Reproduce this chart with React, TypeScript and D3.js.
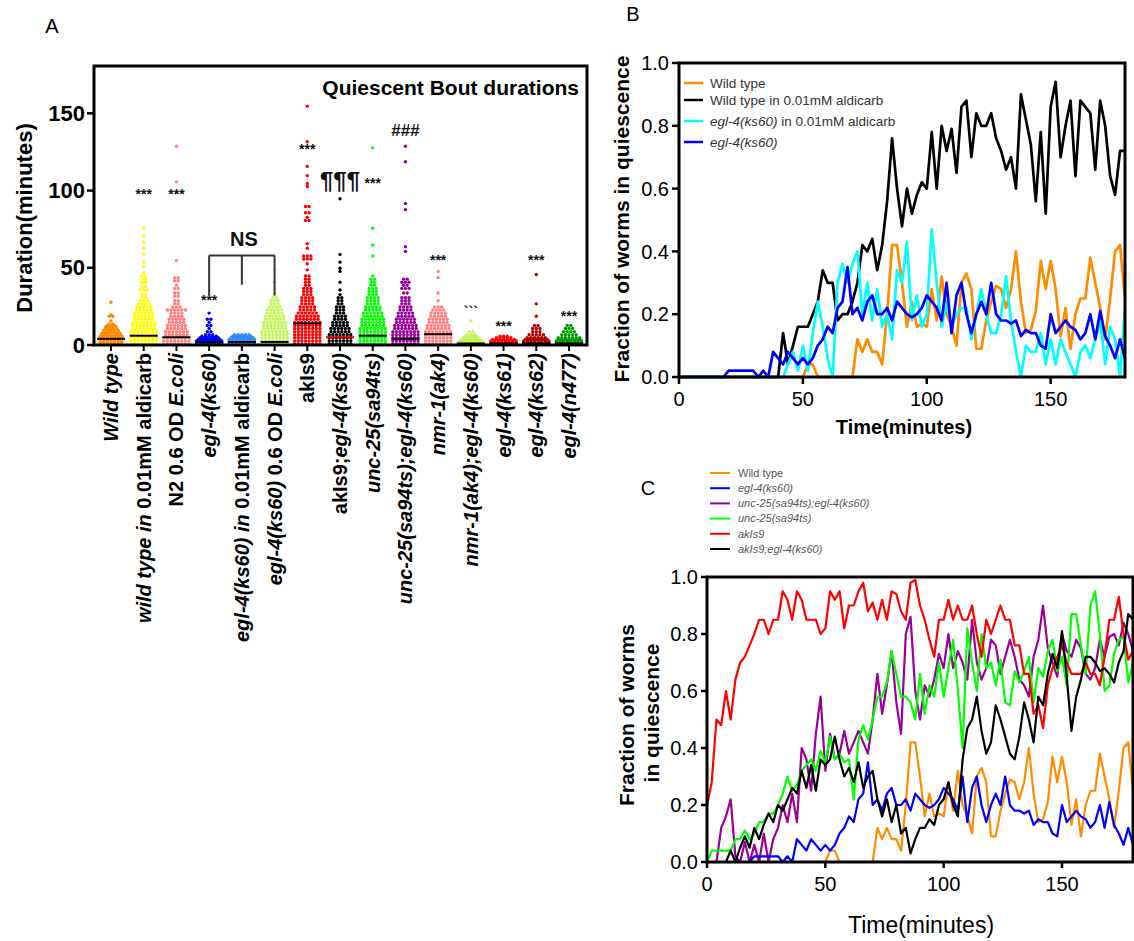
import React from 'react';
import * as d3 from 'd3';

// ---------------- Panel A data ----------------
const categories = [
  'Wild type', 'wild type in 0.01mM aldicarb', 'N2 0.6 OD E.coli', 'egl-4(ks60)',
  'egl-4(ks60) in 0.01mM aldicarb', 'egl-4(ks60) 0.6 OD E.coli', 'akIs9', 'akIs9;egl-4(ks60)',
  'unc-25(sa94ts)', 'unc-25(sa94ts);egl-4(ks60)', 'nmr-1(ak4)', 'nmr-1(ak4);egl-4(ks60)',
  'egl-4(ks61)', 'egl-4(ks62)', 'egl-4(n477)',
];
// label pieces: [text, italic]
const categoryLabelParts: [string, boolean][][] = [
  [['Wild type', true]],
  [['wild type in ', true], ['0.01mM aldicarb', false]],
  [['N2 0.6 OD ', false], ['E.coli', true]],
  [['egl-4(ks60)', true]],
  [['egl-4(ks60) in ', true], ['0.01mM aldicarb', false]],
  [['egl-4(ks60)', true], [' 0.6 OD ', false], ['E.coli', true]],
  [['akIs9', false]],
  [['akIs9;', false], ['egl-4(ks60)', true]],
  [['unc-25(sa94ts)', true]],
  [['unc-25(sa94ts);egl-4(ks60)', true]],
  [['nmr-1(ak4)', true]],
  [['nmr-1(ak4);egl-4(ks60)', true]],
  [['egl-4(ks61)', true]],
  [['egl-4(ks62)', true]],
  [['egl-4(n477)', true]],
];
const categoryColors = ['#FF8C00', '#FFFF00', '#FF7F7F', '#0000FF', '#2E8BFF', '#C4F55A', '#FF0000', '#000000',
  '#00FF00', '#990099', '#FF8080', '#C4F55A', '#FF0000', '#B00000', '#009A00'];
const categoryMedians = [4, 6, 5, 2, 2, 2, 14, 5, 6, 4, 7, 1, 1, 1, 1];
const medianColors = ['#000', '#000', '#000', '#000', '#000', '#000', '#000', '#E00000', '#000', '#000', '#000', '#000', '#000', '#000', '#000'];

// bout durations: [minutes, number of bouts]
const boutsWildType = [[0,7],[1,7],[2,7],[3,7],[4,7],[5,7],[6,6],[7,6],[8,5],[9,5],[10,4],[11,4],[12,3],[13,2],[15,1],[18,2],[19,1],[27,1]];
const boutsWtAldicarb = [[0,8],[2,8],[4,8],[6,8],[8,8],[10,7],[12,7],[14,7],[16,6],[18,6],[20,6],[22,5],[24,5],[26,4],[28,3],[30,2],[32,2],[35,3],[37,2],[40,2],[42,2],[44,2],[46,1],[50,1],[53,1],[58,1],[62,1],[66,1],[70,1],[75,1]];
const boutsN2Ecoli = [[0,8],[2,8],[4,8],[6,7],[8,7],[10,6],[12,6],[14,5],[16,5],[18,4],[20,4],[22,6],[24,3],[26,2],[28,2],[31,2],[33,2],[36,2],[38,1],[41,2],[43,2],[54,1],[98,1],[105,1],[128,1]];
const boutsEgl4 = [[0,8],[1,8],[2,8],[3,7],[4,6],[5,5],[6,3],[8,2],[10,1],[12,2],[14,1],[16,2],[20,1]];
const boutsEgl4Aldicarb = [[0,8],[1,8],[2,8],[3,8],[4,7],[5,6],[6,5]];
const boutsEgl4Ecoli = [[0,8],[2,8],[4,8],[6,8],[8,8],[10,7],[12,7],[14,7],[16,6],[18,6],[20,5],[22,5],[24,4],[26,3],[28,3],[30,2],[33,1],[40,1],[48,1]];
const boutsAkIs9 = [[0,8],[2,8],[4,8],[6,8],[8,8],[10,8],[12,8],[14,8],[16,7],[18,7],[20,6],[22,5],[24,5],[26,4],[28,4],[30,4],[32,3],[34,3],[36,3],[38,2],[40,2],[42,2],[44,2],[48,1],[52,1],[55,3],[57,3],[62,1],[65,1],[80,2],[82,1],[85,2],[89,2],[102,1],[104,1],[109,1],[115,1],[131,1],[154,1]];
const boutsAkIs9Egl4 = [[0,7],[2,7],[4,7],[6,7],[8,6],[10,6],[12,5],[14,5],[16,4],[18,4],[20,3],[22,3],[24,3],[26,2],[28,2],[30,2],[32,1],[35,1],[40,1],[47,1],[49,1],[53,1],[58,1],[94,1]];
const boutsUnc25 = [[0,8],[2,8],[4,8],[6,8],[8,8],[10,8],[12,7],[14,7],[16,7],[18,6],[20,6],[22,5],[24,5],[26,4],[28,4],[30,4],[32,3],[34,3],[36,3],[38,2],[40,2],[42,2],[44,1],[57,1],[64,1],[75,1],[127,1]];
const boutsUnc25Egl4 = [[0,8],[2,8],[4,8],[6,8],[8,8],[10,7],[12,7],[14,6],[16,6],[18,5],[20,5],[22,4],[24,4],[26,3],[28,3],[30,3],[33,2],[36,3],[38,2],[40,3],[42,2],[60,1],[63,1],[87,1],[91,1],[118,1],[128,1]];
const boutsNmr1 = [[0,8],[2,8],[4,8],[6,8],[8,8],[10,7],[12,7],[14,6],[16,6],[18,5],[20,5],[22,4],[24,3],[28,1],[33,1],[43,1],[47,1]];
const boutsNmr1Egl4 = [[0,8],[1,8],[2,7],[3,6],[4,5],[5,4],[6,3],[8,2],[15,1]];
const boutsEgl4ks61 = [[0,8],[1,8],[2,8],[3,7],[4,5],[5,3]];
const boutsEgl4ks62 = [[0,8],[1,8],[2,8],[3,7],[4,6],[6,5],[8,3],[10,3],[12,2],[18,1],[26,1],[45,1]];
const boutsEgl4n477 = [[0,8],[1,8],[2,8],[3,7],[4,7],[6,5],[8,4],[10,3],[12,2]];
const categoryBouts = [boutsWildType, boutsWtAldicarb, boutsN2Ecoli, boutsEgl4, boutsEgl4Aldicarb, boutsEgl4Ecoli,
  boutsAkIs9, boutsAkIs9Egl4, boutsUnc25, boutsUnc25Egl4, boutsNmr1, boutsNmr1Egl4, boutsEgl4ks61, boutsEgl4ks62, boutsEgl4n477];

const sigMarks = [
  { cat: 1, text: '***', value: 100 }, { cat: 2, text: '***', value: 100 }, { cat: 3, text: '***', value: 31 },
  { cat: 6, text: '***', value: 129 }, { cat: 7, text: '¶¶¶', value: 106 }, { cat: 8, text: '***', value: 107 },
  { cat: 9, text: '###', value: 139 }, { cat: 10, text: '***', value: 57 }, { cat: 11, text: '```', value: 23 },
  { cat: 12, text: '***', value: 14 }, { cat: 13, text: '***', value: 57 }, { cat: 14, text: '***', value: 21 },
];
const nsBracket = { cats: [3, 4, 5], top: 58, ends: [32, 39, 32] };
const yTicksA = [0, 50, 100, 150];

// ---------------- Panels B and C data (fraction in quiescence, every 2 min) ----------------
const times = d3.range(0, 181, 2);
const wildType = [0,0,0,0,0,0,0,0,0,0,0,0,0,0,0,0,0,0,0,0,0,0,0,0,0,0,0.04,0.04,0,0,0,0,0,0,0,
  0,0.12,0.08,0.12,0.08,0.08,0.04,0.2,0.42,0.42,0.3,0.16,0.24,0.16,0.17,0.16,0.28,0.18,0.32,0.2,0.16,0.1,0.3,0.33,0.28,
  0.09,0.09,0.18,0.24,0.29,0.28,0.22,0.28,0.4,0.24,0.14,0.15,0.21,0.37,0.28,0.37,0.28,0.13,0.22,0.09,0.2,0.25,0.25,0.38,0.3,
  0.22,0.12,0.25,0.4,0.42,0.25];
const wildTypeAldicarb = [0,0,0,0,0,0,0,0,0,0,0,0,0,0,0,0,0,0,0,0,0,
  0.14,0.04,0.1,0.16,0.16,0.16,0.2,0.24,0.34,0.3,0.3,0.18,0.2,0.2,0.24,0.3,0.42,0.4,0.44,0.34,0.42,0.56,0.76,0.6,0.48,
  0.6,0.52,0.58,0.62,0.6,0.78,0.6,0.8,0.72,0.79,0.65,0.86,0.88,0.7,0.84,0.8,0.8,0.84,0.76,0.72,0.66,0.7,0.6,0.9,0.82,
  0.74,0.56,0.78,0.52,0.86,0.94,0.7,0.8,0.88,0.64,0.88,0.86,0.84,0.66,0.88,0.8,0.64,0.58,0.72,0.72];
const egl4Aldicarb = [0,0,0,0,0,0,0,0,0,0,0,0,0,0,0,0,0,0,0,0,0,0,
  0.04,0.08,0.02,0.1,0.02,0.14,0.24,0.16,0.06,0,0.3,0.36,0.3,0.36,0.4,0.2,0.3,0.18,0.28,0.16,0.2,0.12,0.34,0.3,0.43,
  0.18,0.26,0.16,0.2,0.47,0.3,0.16,0.24,0.16,0.2,0.22,0.22,0.12,0.2,0.28,0.2,0.14,0.14,0.2,0.32,0.18,0.08,0,0.1,0.08,
  0.08,0.14,0.04,0.12,0.04,0.12,0.08,0.04,0,0.08,0.1,0.06,0.12,0.18,0.04,0.16,0.12,0,0.22];
const egl4 = [0,0,0,0,0,0,0,0,0,0,
  0.02,0.02,0.02,0.02,0.02,0.02,0,0.02,0,0.08,0.06,0.04,0.08,0.06,0.04,0.06,0.04,0.06,0.1,0.12,0.16,0.14,0.22,0.24,0.35,
  0.2,0.22,0.18,0.24,0.26,0.2,0.2,0.22,0.18,0.24,0.22,0.2,0.19,0.2,0.22,0.26,0.24,0.22,0.18,0.3,0.14,0.26,0.3,0.2,0.14,
  0.2,0.24,0.2,0.3,0.2,0.18,0.18,0.17,0.18,0.13,0.15,0.14,0.14,0.1,0.09,0.2,0.14,0.16,0.18,0.16,0.15,0.12,0.14,0.2,0.12,
  0.21,0.13,0.1,0.06,0.12,0.06];
const akIs9 = [0.2,0.28,0.5,0.48,0.6,0.5,0.64,0.7,0.72,0.76,0.8,0.85,0.85,0.8,0.85,0.85,0.95,0.92,0.85,0.95,0.92,0.85,0.85,
  0.85,0.8,0.82,0.95,0.92,0.95,0.82,0.9,0.9,0.95,0.98,0.88,0.91,0.85,0.92,0.85,0.95,0.94,0.88,0.85,0.98,0.99,0.9,0.85,0.78,
  0.72,0.85,0.85,0.92,0.85,0.9,0.85,0.85,0.9,0.8,0.72,0.85,0.8,0.85,0.9,0.85,0.85,0.76,0.76,0.66,0.66,0.52,0.55,0.47,0.62,
  0.68,0.72,0.76,0.7,0.66,0.66,0.66,0.7,0.66,0.66,0.62,0.72,0.85,0.85,0.93,0.8,0.71,0.74];
const unc25 = [0,0.04,0.04,0.04,0.04,0.04,0.08,0.08,0.11,0.08,0.1,0.14,0.14,0.17,0.17,0.2,0.24,0.3,0.25,0.27,0.32,0.34,0.36,
  0.32,0.39,0.35,0.44,0.36,0.38,0.35,0.36,0.22,0.43,0.48,0.43,0.5,0.58,0.58,0.63,0.74,0.66,0.58,0.58,0.56,0.5,0.66,0.52,0.62,
  0.58,0.7,0.58,0.68,0.78,0.6,0.4,0.82,0.7,0.6,0.8,0.68,0.7,0.62,0.71,0.56,0.55,0.67,0.63,0.67,0.72,0.56,0.68,0.65,0.74,
  0.78,0.67,0.72,0.62,0.87,0.87,0.76,0.66,0.9,0.95,0.8,0.6,0.62,0.73,0.78,0.79,0.63,0.7];
const unc25Egl4 = [0,0,0,0.12,0.16,0.22,0.02,0,0.07,0,0.06,0,0.1,0,0.08,0.12,0.2,0.14,0.24,0.14,0.4,0.36,0.25,0.45,0.58,
  0.32,0.45,0.36,0.38,0.46,0.38,0.42,0.46,0.42,0.38,0.5,0.66,0.52,0.62,0.74,0.56,0.45,0.8,0.86,0.6,0.5,0.62,0.58,0.64,0.73,
  0.68,0.8,0.68,0.74,0.7,0.64,0.85,0.7,0.64,0.68,0.78,0.76,0.66,0.72,0.78,0.72,0.64,0.62,0.58,0.72,0.78,0.9,0.75,0.7,0.65,
  0.8,0.74,0.72,0.78,0.75,0.66,0.64,0.68,0.78,0.72,0.79,0.8,0.76,0.84,0.8,0.74];
const akIs9Egl4 = [0,0,0,0,0,0.04,0,0.05,0.09,0.05,0.12,0.08,0.13,0.17,0.14,0.2,0.18,0.22,0.26,0.24,0.32,0.26,0.34,0.25,
  0.36,0.34,0.36,0.44,0.36,0.3,0.33,0.28,0.35,0.26,0.3,0.32,0.22,0.16,0.22,0.14,0.2,0.1,0.12,0.03,0.08,0.12,0.12,0.15,0.13,
  0.2,0.22,0.28,0.2,0.16,0.36,0.47,0.5,0.58,0.46,0.38,0.42,0.55,0.5,0.44,0.38,0.36,0.44,0.56,0.5,0.42,0.58,0.55,0.66,0.73,
  0.68,0.81,0.65,0.46,0.58,0.64,0.72,0.72,0.7,0.67,0.68,0.66,0.63,0.7,0.74,0.87,0.85];

const seriesB = [
  { name: 'wt', values: wildType, color: '#FF8C00' },
  { name: 'wtAld', values: wildTypeAldicarb, color: '#000000' },
  { name: 'eglAld', values: egl4Aldicarb, color: '#00FFFF' },
  { name: 'egl', values: egl4, color: '#0000FF' },
];
const legendB: { color: string; parts: [string, boolean][]; y: number }[] = [
  { color: '#FF8C00', parts: [['Wild type', false]], y: 83 },
  { color: '#000000', parts: [['Wild type in 0.01mM aldicarb', false]], y: 100 },
  { color: '#00FFFF', parts: [['egl-4(ks60)', true], [' in 0.01mM aldicarb', false]], y: 121 },
  { color: '#0000FF', parts: [['egl-4(ks60)', true]], y: 142 },
];
const seriesC = [
  { name: 'unc25egl', values: unc25Egl4, color: '#990099' },
  { name: 'unc25', values: unc25, color: '#00FF00' },
  { name: 'akIs9', values: akIs9, color: '#FF0000' },
  { name: 'wt', values: wildType, color: '#FF8C00' },
  { name: 'egl', values: egl4, color: '#0000FF' },
  { name: 'akIs9egl', values: akIs9Egl4, color: '#000000' },
];
const legendC: { color: string; text: string; italic: boolean }[] = [
  { color: '#FF8C00', text: 'Wild type', italic: false },
  { color: '#0000FF', text: 'egl-4(ks60)', italic: true },
  { color: '#990099', text: 'unc-25(sa94ts);egl-4(ks60)', italic: true },
  { color: '#00FF00', text: 'unc-25(sa94ts)', italic: true },
  { color: '#FF0000', text: 'akIs9', italic: true },
  { color: '#000000', text: 'akIs9;egl-4(ks60)', italic: true },
];
const fracTicks = [0, 0.2, 0.4, 0.6, 0.8, 1.0];
const timeTicks = [0, 50, 100, 150];

const FONT = "'Liberation Sans', Arial, Helvetica, sans-serif";

export default function App() {
  // ---- Panel A scales
  const xA = d3.scalePoint<string>().domain(categories).range([111, 569]);
  const yA = d3.scaleLinear().domain([0, 180]).range([345, 67]);
  const frameA = { l: 94, r: 587, t: 66, b: 345 };

  // ---- Panel B scales
  const xB = d3.scaleLinear().domain([0, 180]).range([679, 1125]);
  const yB = d3.scaleLinear().domain([0, 1]).range([377, 63]);
  const lineB = d3.line<number>().x((_, i) => xB(times[i])).y((d) => yB(d));

  // ---- Panel C scales
  const xC = d3.scaleLinear().domain([0, 180]).range([707, 1133]);
  const yC = d3.scaleLinear().domain([0, 1]).range([862, 577]);
  const lineC = d3.line<number>().x((_, i) => xC(times[i])).y((d) => yC(d));

  const fmt = d3.format('.1f');
  const dotDx = 3.6;

  return (
    <svg width={1134} height={941} style={{ position: 'absolute', left: 0, top: 0, background: '#fff' }} fontFamily={FONT}>
      <rect x={0} y={0} width={1134} height={941} fill="#fff" />
      {/* ================= Panel A ================= */}
      <text x={52} y={33} fontSize={20} textAnchor="middle">A</text>
      {categories.map((c, ci) => {
        const cx = xA(c)!;
        const dots: JSX.Element[] = [];
        categoryBouts[ci].forEach(([v, n], ri) => {
          for (let k = 0; k < n; k++) {
            dots.push(<circle key={`${ri}-${k}`} cx={cx + (k - (n - 1) / 2) * dotDx} cy={yA(v) - 1} r={1.7} fill={categoryColors[ci]} />);
          }
        });
        return <g key={c}>{dots}
          <line x1={cx - 14} x2={cx + 14} y1={yA(categoryMedians[ci])} y2={yA(categoryMedians[ci])} stroke={medianColors[ci]} strokeWidth={2} />
        </g>;
      })}
      <rect x={frameA.l} y={frameA.t} width={frameA.r - frameA.l} height={frameA.b - frameA.t} fill="none" stroke="#000" strokeWidth={3} />
      {yTicksA.map((t) => (
        <g key={t}>
          <line x1={frameA.l - 7} x2={frameA.l} y1={yA(t)} y2={yA(t)} stroke="#000" strokeWidth={2.5} />
          <text x={frameA.l - 9} y={yA(t)} dy="0.35em" fontSize={22} fontWeight="bold" textAnchor="end">{t}</text>
        </g>
      ))}
      <text transform={`translate(32,218) rotate(-90)`} fontSize={22} fontWeight="bold" textAnchor="middle">Duration(minutes)</text>
      <text x={579} y={95} fontSize={21} fontWeight="bold" textAnchor="end">Quiescent Bout durations</text>
      {categories.map((c, ci) => {
        const cx = xA(c)!;
        return (
          <g key={'xl' + c}>
            <line x1={cx} x2={cx} y1={frameA.b} y2={frameA.b + 6} stroke="#000" strokeWidth={2} />
            <text transform={`translate(${cx + 7},${frameA.b + 8}) rotate(-90)`} fontSize={20} fontWeight="bold" textAnchor="end">
              {categoryLabelParts[ci].map(([t, it], k) => (
                <tspan key={k} fontStyle={it ? 'italic' : 'normal'}>{t}</tspan>
              ))}
            </text>
          </g>
        );
      })}
      {sigMarks.map((m, i) => {
        const cx = xA(categories[m.cat])!;
        const big = m.text === '¶¶¶';
        const hash = m.text === '###';
        const fs = big ? 24 : hash ? 17 : 14;
        const off = big ? 8 : hash ? 6 : 8;
        return <text key={i} x={cx} y={yA(m.value) + off} fontSize={fs} fontWeight="bold" textAnchor="middle" fill="#111">{m.text}</text>;
      })}
      {(() => {
        const xs = nsBracket.cats.map((ci) => xA(categories[ci])!);
        const yt = yA(nsBracket.top);
        return (
          <g stroke="#333" strokeWidth={2} fill="none">
            <line x1={xs[0]} x2={xs[2]} y1={yt} y2={yt} />
            {xs.map((x, k) => <line key={k} x1={x} x2={x} y1={yt} y2={yA(nsBracket.ends[k])} />)}
            <text x={xs[1] + 2} y={yt - 9} stroke="none" fill="#111" fontSize={20} fontWeight="bold" textAnchor="middle">NS</text>
          </g>
        );
      })()}

      {/* ================= Panel B ================= */}
      <text x={633} y={21} fontSize={20} textAnchor="middle">B</text>
      <g fill="none" strokeWidth={2.7} strokeLinejoin="round">
        {seriesB.map((s) => <path key={s.name} d={lineB(s.values)!} stroke={s.color} />)}
      </g>
      <rect x={xB(0)} y={yB(1)} width={xB(180) - xB(0)} height={yB(0) - yB(1)} fill="none" stroke="#000" strokeWidth={3} />
      {fracTicks.map((t) => (
        <g key={'by' + t}>
          <line x1={xB(0) - 7} x2={xB(0)} y1={yB(t)} y2={yB(t)} stroke="#000" strokeWidth={2.5} />
          <text x={xB(0) - 10} y={yB(t)} dy="0.36em" fontSize={20} textAnchor="end">{fmt(t)}</text>
        </g>
      ))}
      {timeTicks.map((t) => (
        <g key={'bx' + t}>
          <line x1={xB(t)} x2={xB(t)} y1={yB(0)} y2={yB(0) + 7} stroke="#000" strokeWidth={2.5} />
          <text x={xB(t)} y={406} fontSize={20} textAnchor="middle">{t}</text>
        </g>
      ))}
      <text x={904} y={434} fontSize={20} fontWeight="bold" textAnchor="middle">Time(minutes)</text>
      <text transform={`translate(629,219) rotate(-90)`} fontSize={21} fontWeight="bold" textAnchor="middle">Fraction of worms in quiescence</text>
      {legendB.map((e, i) => (
        <g key={'lb' + i}>
          <line x1={684} x2={703} y1={e.y} y2={e.y} stroke={e.color} strokeWidth={2.5} />
          <text x={710} y={e.y} dy="0.35em" fontSize={13.5} fill="#333">
            {e.parts.map(([t, it], k) => <tspan key={k} fontStyle={it ? 'italic' : 'normal'}>{t}</tspan>)}
          </text>
        </g>
      ))}

      {/* ================= Panel C ================= */}
      <text x={648} y={495} fontSize={20} textAnchor="middle">C</text>
      {legendC.map((e, i) => {
        const y = 473 + i * 15.2;
        return (
          <g key={'lc' + i}>
            <line x1={710} x2={730} y1={y} y2={y} stroke={e.color} strokeWidth={2} />
            <text x={738} y={y} dy="0.35em" fontSize={11} fill="#555" fontStyle={e.italic ? 'italic' : 'normal'}>{e.text}</text>
          </g>
        );
      })}
      <g fill="none" strokeWidth={2.2} strokeLinejoin="round">
        {seriesC.map((s) => <path key={s.name} d={lineC(s.values)!} stroke={s.color} />)}
      </g>
      <rect x={xC(0)} y={yC(1)} width={xC(180) - xC(0)} height={yC(0) - yC(1)} fill="none" stroke="#000" strokeWidth={3} />
      {fracTicks.map((t) => (
        <g key={'cy' + t}>
          <line x1={xC(0) - 6} x2={xC(0)} y1={yC(t)} y2={yC(t)} stroke="#000" strokeWidth={2.5} />
          <text x={xC(0) - 9} y={yC(t)} dy="0.36em" fontSize={20} textAnchor="end">{fmt(t)}</text>
        </g>
      ))}
      {timeTicks.map((t) => (
        <g key={'cx' + t}>
          <line x1={xC(t)} x2={xC(t)} y1={yC(0)} y2={yC(0) + 6} stroke="#000" strokeWidth={2.5} />
          <text x={xC(t)} y={891} fontSize={20} textAnchor="middle">{t}</text>
        </g>
      ))}
      <text x={921} y={933} fontSize={23} textAnchor="middle">Time(minutes)</text>
      <text transform={`translate(634,715) rotate(-90)`} fontSize={21} fontWeight="bold" textAnchor="middle">Fraction of worms</text>
      <text transform={`translate(659,713) rotate(-90)`} fontSize={21} fontWeight="bold" textAnchor="middle">in quiescence</text>
    </svg>
  );
}
